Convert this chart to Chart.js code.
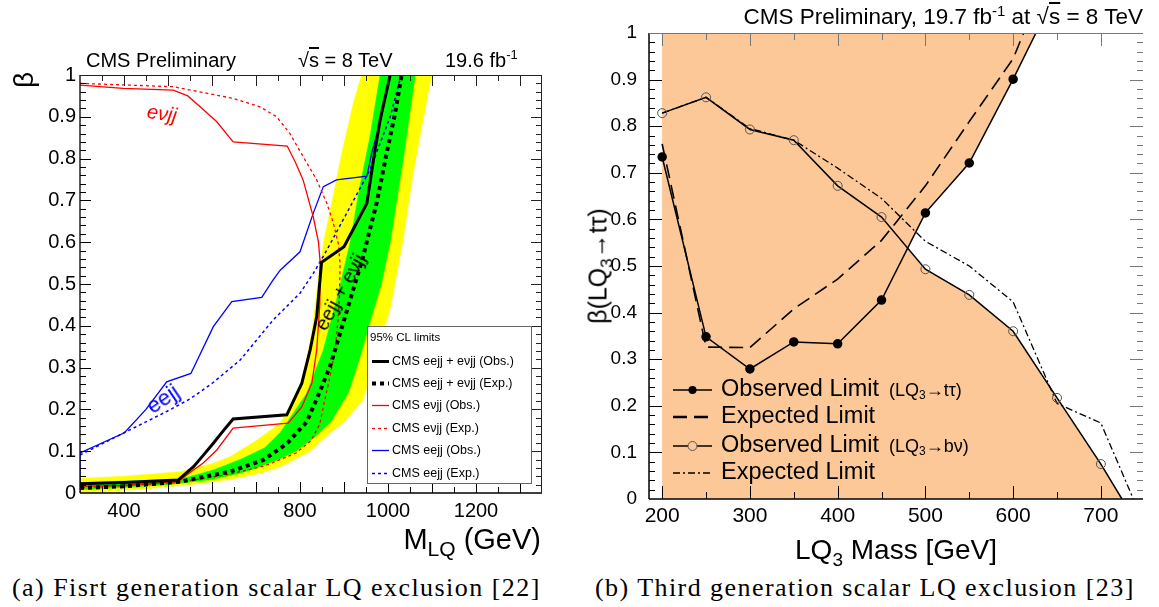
<!DOCTYPE html>
<html>
<head>
<meta charset="utf-8">
<title>LQ exclusion limits</title>
<script src="https://cdn.jsdelivr.net/npm/chart.js@4.4.1/dist/chart.umd.min.js"></script>
<style>
  body { margin: 0; background: #fff; }
  #page { position: relative; width: 1159px; height: 607px; overflow: hidden;
          font-family: 'Liberation Sans', Arial, sans-serif; color: #000; }
  canvas { position: absolute; top: 0; }
  #chartA { left: 0; }
  #chartB { left: 580px; }
  .txt { position: absolute; white-space: nowrap; line-height: 1; }
  .ctr { transform-origin: center center; }
  sub, sup { line-height: 0; }
  .cap { font-family: 'Liberation Serif', 'DejaVu Serif', serif; font-size: 26px; letter-spacing: 1.45px; }
</style>
</head>
<body>
<div id="page">
  <canvas id="chartA" width="580" height="540"></canvas>
  <canvas id="chartB" width="579" height="540"></canvas>

  <!-- panel (a) texts -->
  <div class="txt" style="left:86px; top:50px; font-size:20px;">CMS Preliminary</div>
  <div class="txt" style="left:298px; top:50px; font-size:20px;">√<span style="text-decoration:overline">s</span> = 8 TeV</div>
  <div class="txt" style="left:445px; top:50px; font-size:20px;">19.6 fb<sup style="font-size:13px">-1</sup></div>
  <div class="txt ctr" style="left:24px; top:80px; font-size:28px; transform:translate(-50%,-50%) rotate(-90deg);">β</div>
  <div class="txt" style="right:618px; top:525px; font-size:29px;">M<sub style="font-size:21px">LQ</sub> (GeV)</div>
  <div class="txt ctr" style="left:162px; top:113px; font-size:20px; color:#ff0000; font-style:italic; transform:translate(-50%,-50%) rotate(8deg);">eνjj</div>
  <div class="txt ctr" style="left:163px; top:399px; font-size:22px; color:#0000ff; transform:translate(-50%,-50%) rotate(-34deg);">eejj</div>
  <div class="txt ctr" style="left:340px; top:292px; font-size:20px; transform:translate(-50%,-50%) rotate(-61deg);">eejj + eνjj</div>

  <!-- panel (b) texts -->
  <div class="txt" style="right:16px; top:6px; font-size:22.5px;">CMS Preliminary, 19.7 fb<sup style="font-size:15px">-1</sup> at √<span style="text-decoration:overline">s</span> = 8 TeV</div>
  <div class="txt ctr" style="left:598px; top:266px; font-size:25px; transform:translate(-50%,-50%) rotate(-90deg);">β(LQ<sub style="font-size:17px">3</sub>→tτ)</div>
  <div class="txt" style="right:162px; top:536px; font-size:28px;">LQ<sub style="font-size:19px">3</sub> Mass [GeV]</div>

  <!-- captions -->
  <div class="txt cap" style="left:12px; top:575px;">(a) Fisrt generation scalar LQ exclusion [22]</div>
  <div class="txt cap" style="left:595px; top:575px;">(b) Third generation scalar LQ exclusion [23]</div>
</div>

<script>
// --- 1. Data: panel (a), first generation (M_LQ in GeV, beta) ---
const massTicksA = [400, 600, 800, 1000, 1200];
const betaTicks = [0, 0.1, 0.2, 0.3, 0.4, 0.5, 0.6, 0.7, 0.8, 0.9, 1];
const betaLabels = ['0', '0.1', '0.2', '0.3', '0.4', '0.5', '0.6', '0.7', '0.8', '0.9', '1'];

// eejj + evjj combined, observed
const combObsM = [300, 400, 523, 558, 580, 603, 625, 648, 770, 804, 823, 838, 849, 900, 952, 967, 982, 1005];
const combObsB = [0.022, 0.025, 0.031, 0.063, 0.09, 0.119, 0.148, 0.177, 0.187, 0.262, 0.342, 0.422, 0.552, 0.589, 0.693, 0.797, 0.892, 1.0];
// eejj + evjj combined, expected
const combExpM = [300, 400, 527, 641, 717, 770, 815, 838, 868, 891, 914, 942, 974, 997, 1016, 1031];
const combExpB = [0.012, 0.016, 0.027, 0.051, 0.079, 0.118, 0.17, 0.225, 0.302, 0.382, 0.462, 0.56, 0.693, 0.813, 0.908, 1.0];
// evjj observed (closed contour)
const evjjObsM = [300, 398, 512, 545, 573, 611, 648, 771, 790, 807, 830, 842, 846, 845, 838, 827, 804, 773, 648, 611, 580, 558, 523, 400, 300];
const evjjObsB = [0.976, 0.968, 0.964, 0.95, 0.924, 0.888, 0.84, 0.83, 0.79, 0.749, 0.661, 0.6, 0.55, 0.45, 0.342, 0.263, 0.206, 0.167, 0.155, 0.103, 0.072, 0.055, 0.027, 0.018, 0.016];
// evjj expected
const evjjExpM = [300, 512, 648, 709, 747, 777, 807, 838, 861, 876, 887, 891, 890, 887, 880, 868, 853, 845, 825, 790, 720, 640, 520, 300];
const evjjExpB = [0.98, 0.972, 0.944, 0.924, 0.9, 0.86, 0.805, 0.749, 0.693, 0.645, 0.597, 0.55, 0.48, 0.422, 0.342, 0.278, 0.206, 0.165, 0.125, 0.095, 0.065, 0.045, 0.025, 0.012];
// eejj observed
const eejjObsM = [300, 300, 401, 450, 497, 552, 603, 645, 713, 739, 755, 800, 830, 853, 883, 952, 963, 985, 1005];
const eejjObsB = [0.0, 0.096, 0.144, 0.2, 0.266, 0.286, 0.398, 0.458, 0.468, 0.51, 0.533, 0.577, 0.669, 0.733, 0.749, 0.758, 0.813, 0.9, 1.0];
// eejj expected
const eejjExpM = [300, 398, 497, 550, 600, 664, 739, 800, 830, 861, 910, 959, 1005, 1030];
const eejjExpB = [0.091, 0.143, 0.195, 0.225, 0.262, 0.318, 0.414, 0.478, 0.525, 0.581, 0.677, 0.773, 0.9, 1.0];

// +-2 sigma band (left edge going up, right edge coming down)
const band2LeftM = [300, 400, 527, 600, 641, 700, 755, 800, 827, 842, 853, 872, 895, 921, 940];
const band2LeftB = [0.035, 0.04, 0.051, 0.07, 0.087, 0.125, 0.167, 0.246, 0.382, 0.517, 0.597, 0.693, 0.813, 0.932, 1.0];
const band2RightM = [1099, 1057, 1034, 1005, 980, 943, 900, 868, 823, 755, 700, 640, 550, 450, 300];
const band2RightB = [1.0, 0.765, 0.605, 0.44, 0.35, 0.222, 0.17, 0.143, 0.10, 0.062, 0.045, 0.032, 0.02, 0.01, 0.0];
// +-1 sigma band
const band1LeftM = [300, 527, 603, 664, 720, 755, 815, 853, 883, 914, 936, 959, 982];
const band1LeftB = [0.025, 0.033, 0.055, 0.08, 0.108, 0.145, 0.238, 0.342, 0.462, 0.6, 0.733, 0.852, 1.0];
const band1RightM = [1062, 1035, 1005, 985, 965, 935, 910, 870, 835, 790, 750, 700, 664, 600, 500, 400, 300];
const band1RightB = [1.0, 0.8, 0.6, 0.5, 0.43, 0.32, 0.24, 0.17, 0.135, 0.1, 0.08, 0.06, 0.047, 0.032, 0.02, 0.013, 0.008];

// --- 2. Data: panel (b), third generation ---
const massTicksB = [200, 300, 400, 500, 600, 700];
const massB = [200, 250, 300, 350, 400, 450, 500, 550, 600, 650, 700];
const obsTt = [0.734, 0.348, 0.279, 0.337, 0.333, 0.427, 0.614, 0.721, 0.901];
const obsTtEnd = [626, 1.0];                 // where the line leaves the frame
const expTtM = [200, 250, 300, 350, 400, 450, 500, 550, 600, 612];
const expTt = [0.762, 0.326, 0.325, 0.408, 0.472, 0.555, 0.672, 0.81, 0.945, 1.0];
const obsBnu = [0.828, 0.862, 0.793, 0.770, 0.672, 0.605, 0.493, 0.438, 0.360, 0.217, 0.075];
const obsBnuEnd = [724, 0.0];
const expBnuM = [200, 250, 300, 350, 400, 450, 500, 550, 600, 650, 700, 737];
const expBnu = [0.828, 0.862, 0.795, 0.77, 0.71, 0.645, 0.553, 0.50, 0.423, 0.205, 0.163, 0.0];
// excluded region outline
const exclM = [200, 200, 626, 600, 550, 500, 479, 500, 550, 600, 650, 700, 724];
const exclB = [0, 1, 1, 0.901, 0.721, 0.614, 0.538, 0.493, 0.438, 0.360, 0.217, 0.075, 0];

// --- 3. Helpers ---
function pts(xs, ys) {
    return xs.map((x, i) => ({ x: x, y: ys[i] }));
}

function lineSet(xs, ys, extra) {
    return Object.assign({
        data: pts(xs, ys),
        borderWidth: 1.3,
        pointRadius: 0,
        fill: false,
        tension: 0,
        clip: 0
    }, extra);
}

function bandSet(leftM, leftB, rightM, rightB, color, order) {
    return {
        data: pts(leftM, leftB).concat(pts(rightM, rightB)),
        borderColor: color,
        borderWidth: 0.5,
        backgroundColor: color,
        pointRadius: 0,
        fill: 'shape',
        tension: 0,
        clip: 0,
        order: order
    };
}

// draw text runs (for subscripts) one after the other
function drawRuns(ctx, x, y, runs) {
    runs.forEach(r => {
        ctx.font = r.size + "px 'Liberation Sans', Arial, sans-serif";
        ctx.fillText(r.t, x, y + (r.dy || 0));
        x += ctx.measureText(r.t).width;
    });
}

// inward ROOT-style ticks and the frame
const frameTicks = {
    id: 'frameTicks',
    afterDatasetsDraw(chart, args, o) {
        const ctx = chart.ctx;
        const a = chart.chartArea;
        const xs = chart.scales.x, ys = chart.scales.y;
        ctx.save();
        ctx.lineWidth = 1;
        for (let v = o.xFrom; v <= o.xTo; v += o.xStep) {
            const px = Math.round(xs.getPixelForValue(v)) + 0.5;
            if (px <= a.left + 1 || px >= a.right - 1) continue;
            const len = v % o.xMajor === 0 ? o.xLong : o.xShort;
            ctx.strokeStyle = o.bottomColor;
            ctx.beginPath(); ctx.moveTo(px, a.bottom); ctx.lineTo(px, a.bottom - len); ctx.stroke();
            ctx.strokeStyle = o.topColor;
            ctx.beginPath(); ctx.moveTo(px, a.top); ctx.lineTo(px, a.top + len); ctx.stroke();
        }
        for (let i = 1; i < 50; i++) {
            const py = Math.round(ys.getPixelForValue(i * 0.02)) + 0.5;
            const len = i % 5 === 0 ? o.yLong : o.yShort;
            ctx.strokeStyle = o.leftColor;
            ctx.beginPath(); ctx.moveTo(a.left, py); ctx.lineTo(a.left + len, py); ctx.stroke();
            ctx.strokeStyle = o.rightColor;
            ctx.beginPath(); ctx.moveTo(a.right, py); ctx.lineTo(a.right - len, py); ctx.stroke();
        }
        // frame lines
        ctx.lineWidth = o.frameWidth;
        ctx.strokeStyle = o.leftColor;
        ctx.beginPath(); ctx.moveTo(a.left, a.top); ctx.lineTo(a.left, a.bottom); ctx.stroke();
        ctx.strokeStyle = o.bottomColor;
        ctx.beginPath(); ctx.moveTo(a.left, a.bottom); ctx.lineTo(a.right, a.bottom); ctx.stroke();
        ctx.lineWidth = 1;
        ctx.strokeStyle = o.topColor;
        ctx.beginPath(); ctx.moveTo(a.left, a.top + 0.5); ctx.lineTo(a.right, a.top + 0.5); ctx.stroke();
        if (o.rightLine) {
            ctx.strokeStyle = o.rightColor;
            ctx.beginPath(); ctx.moveTo(a.right - 0.5, a.top); ctx.lineTo(a.right - 0.5, a.bottom); ctx.stroke();
        }
        ctx.restore();
    }
};

// boxed legend of panel (a)
const legendA = {
    id: 'legendA',
    afterDraw(chart) {
        const ctx = chart.ctx;
        const rows = [361, 383, 405, 428, 450, 473];
        ctx.save();
        ctx.fillStyle = '#fff';
        ctx.fillRect(367, 326, 164, 157);
        ctx.strokeStyle = '#666';
        ctx.lineWidth = 1;
        ctx.strokeRect(367.5, 326.5, 164, 157);
        ctx.fillStyle = '#000';
        ctx.textBaseline = 'middle';
        ctx.font = "11.5px 'Liberation Sans', Arial, sans-serif";
        ctx.fillText('95% CL limits', 370, 338);
        chart.data.datasets.filter(d => d.label).forEach((d, i) => {
            const y = rows[i] + 0.5;
            ctx.strokeStyle = d.borderColor;
            ctx.lineWidth = d.borderWidth;
            ctx.setLineDash(d.borderDash || []);
            ctx.beginPath(); ctx.moveTo(372, y); ctx.lineTo(389, y); ctx.stroke();
            ctx.setLineDash([]);
            ctx.font = "12.5px 'Liberation Sans', Arial, sans-serif";
            ctx.fillStyle = '#000';
            ctx.fillText(d.label, 392, y);
        });
        ctx.restore();
    }
};

// legend of panel (b), canvas starts at page x = 580
const legendB = {
    id: 'legendB',
    afterDraw(chart) {
        const ctx = chart.ctx;
        const rows = [390, 417, 446, 473];
        ctx.save();
        ctx.textBaseline = 'middle';
        chart.data.datasets.filter(d => d.label).forEach((d, i) => {
            const y = rows[i];
            ctx.strokeStyle = d.borderColor;
            ctx.lineWidth = d.legendWidth || d.borderWidth;
            ctx.setLineDash(d.borderDash || []);
            ctx.beginPath(); ctx.moveTo(93, y); ctx.lineTo(132, y); ctx.stroke();
            ctx.setLineDash([]);
            if (d.marker) {
                ctx.beginPath();
                ctx.arc(112.5, y, d.marker === 'filled' ? 4 : 4.5, 0, Math.PI * 2);
                if (d.marker === 'filled') { ctx.fillStyle = '#000'; ctx.fill(); }
                else { ctx.fillStyle = '#fcc897'; ctx.fill(); ctx.lineWidth = 1; ctx.strokeStyle = '#555'; ctx.stroke(); }
            }
            ctx.fillStyle = '#000';
            ctx.font = "23.5px 'Liberation Sans', Arial, sans-serif";
            ctx.fillText(d.label, 141, y);
            if (d.note) {
                const w = ctx.measureText(d.label).width;
                drawRuns(ctx, 141 + w + 10, y + 1, d.note);
            }
        });
        ctx.restore();
    }
};

Chart.defaults.font.family = "'Liberation Sans', Arial, sans-serif";
Chart.defaults.color = '#000';

function baseScales(xMin, xMax, xTicks, yWidth, xHeight, fontX, fontY, padX, padY) {
    return {
        x: {
            type: 'linear', min: xMin, max: xMax,
            grid: { display: false, drawTicks: false }, border: { display: false },
            afterBuildTicks: s => { s.ticks = xTicks.map(v => ({ value: v })); },
            afterFit: s => { s.height = xHeight; },
            ticks: { font: { size: fontX }, padding: padX, maxRotation: 0, autoSkip: false, callback: v => String(v) }
        },
        y: {
            type: 'linear', min: 0, max: 1,
            grid: { display: false, drawTicks: false }, border: { display: false },
            afterBuildTicks: s => { s.ticks = betaTicks.map(v => ({ value: v })); },
            afterFit: s => { s.width = yWidth; },
            ticks: { font: { size: fontY }, padding: padY, autoSkip: false, callback: (v, i) => betaLabels[i] }
        }
    };
}

// --- 4. Panel (a) ---
const chartA = new Chart(document.getElementById('chartA'), {
    type: 'line',
    data: {
        datasets: [
            lineSet(combObsM, combObsB, { label: 'CMS eejj + eνjj (Obs.)', borderColor: '#000', borderWidth: 3, order: 0 }),
            lineSet(combExpM, combExpB, { label: 'CMS eejj + eνjj (Exp.)', borderColor: '#000', borderWidth: 4, borderDash: [4, 4], order: 1 }),
            lineSet(evjjObsM, evjjObsB, { label: 'CMS eνjj (Obs.)', borderColor: '#ff0000', order: 2 }),
            lineSet(evjjExpM, evjjExpB, { label: 'CMS eνjj (Exp.)', borderColor: '#ff0000', borderDash: [3, 3], order: 3 }),
            lineSet(eejjObsM, eejjObsB, { label: 'CMS eejj (Obs.)', borderColor: '#0000ff', order: 4 }),
            lineSet(eejjExpM, eejjExpB, { label: 'CMS eejj (Exp.)', borderColor: '#0000ff', borderWidth: 1.5, borderDash: [3, 3], order: 5 }),
            bandSet(band1LeftM, band1LeftB, band1RightM, band1RightB, '#00ff00', 8),
            bandSet(band2LeftM, band2LeftB, band2RightM, band2RightB, '#ffff00', 9)
        ]
    },
    options: {
        responsive: false,
        animation: false,
        devicePixelRatio: 1,
        layout: { padding: { left: 0, top: 75, right: 38, bottom: 0 } },
        plugins: {
            legend: { display: false },
            tooltip: { enabled: false },
            frameTicks: {
                xFrom: 300, xTo: 1350, xStep: 50, xMajor: 100, xLong: 11, xShort: 6,
                yLong: 11, yShort: 6, frameWidth: 1.3, rightLine: true,
                leftColor: '#000', bottomColor: '#000', topColor: '#222', rightColor: '#222'
            }
        },
        scales: baseScales(300, 1350, massTicksA, 80, 47, 20, 20, 6, 4)
    },
    plugins: [frameTicks, legendA]
});

// --- 5. Panel (b) ---
const chartB = new Chart(document.getElementById('chartB'), {
    type: 'line',
    data: {
        datasets: [
            lineSet(massB.slice(0, obsTt.length).concat([obsTtEnd[0]]), obsTt.concat([obsTtEnd[1]]), {
                label: 'Observed Limit', marker: 'filled',
                note: [{ t: '(LQ', size: 18 }, { t: '3', size: 12, dy: 5 }, { t: '→tτ)', size: 18 }],
                borderColor: '#000', borderWidth: 1.5, order: 0,
                pointRadius: c => c.dataIndex < obsTt.length ? 4 : 0,
                pointBackgroundColor: '#000', pointBorderColor: '#000'
            }),
            lineSet(expTtM, expTt, { label: 'Expected Limit', borderColor: '#000', borderWidth: 1.6, legendWidth: 2.6, borderDash: [14, 7], order: 1 }),
            lineSet(massB.concat([obsBnuEnd[0]]), obsBnu.concat([obsBnuEnd[1]]), {
                label: 'Observed Limit', marker: 'open',
                note: [{ t: '(LQ', size: 18 }, { t: '3', size: 12, dy: 5 }, { t: '→bν)', size: 18 }],
                borderColor: '#000', borderWidth: 1.5, order: 2,
                pointRadius: c => c.dataIndex < obsBnu.length ? 4.5 : 0,
                pointBackgroundColor: 'rgba(0,0,0,0)', pointBorderColor: '#555', pointBorderWidth: 1
            }),
            lineSet(expBnuM, expBnu, { label: 'Expected Limit', borderColor: '#000', borderWidth: 1.3, borderDash: [7, 3, 2, 3], order: 3 }),
            bandSet(exclM, exclB, [], [], '#fcc897', 9)
        ]
    },
    options: {
        responsive: false,
        animation: false,
        devicePixelRatio: 1,
        layout: { padding: { left: 0, top: 33, right: 16, bottom: 0 } },
        plugins: {
            legend: { display: false },
            tooltip: { enabled: false },
            frameTicks: {
                xFrom: 200, xTo: 700, xStep: 50, xMajor: 100, xLong: 13, xShort: 7,
                yLong: 13, yShort: 6, frameWidth: 1.5, rightLine: false,
                leftColor: '#000', bottomColor: '#000', topColor: '#777', rightColor: '#777'
            }
        },
        scales: baseScales(185, 748, massTicksB, 69, 41, 21, 19, 5, 12)
    },
    plugins: [frameTicks, legendB]
});
</script>
</body>
</html>
